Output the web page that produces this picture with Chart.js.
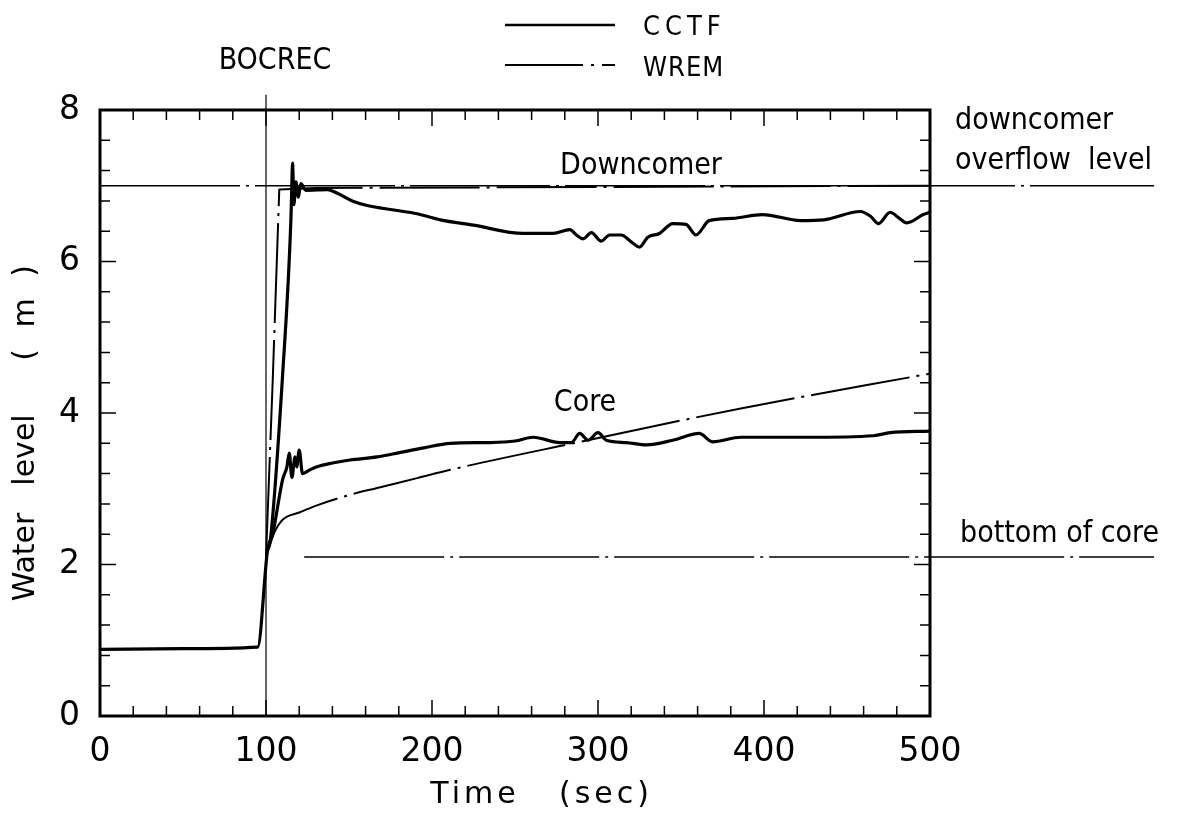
<!DOCTYPE html>
<html>
<head>
<meta charset="utf-8">
<script src="https://cdn.jsdelivr.net/npm/chart.js@4/dist/chart.umd.min.js"></script>
<style>
  body { margin: 0; background: #fff; }
  #wrap { width: 1185px; height: 814px; position: relative; }
</style>
</head>
<body>
<div id="wrap"><canvas id="levelChart"></canvas></div>
<script>
// time (sec) / water level (m)
const cctfCoreTime = [0, 50, 95, 101, 104, 110, 112.6, 114, 115.6, 117.5, 118.5, 120, 122, 126.5, 130.7, 140, 150.6, 167, 181, 195, 211, 235, 250, 261, 277, 284, 289, 294, 300, 305, 317, 329, 345, 361, 369, 386, 426, 466, 476, 500];
const cctfCoreLevel = [0.88, 0.89, 0.91, 2.2, 2.4, 3.12, 3.29, 3.47, 3.15, 3.42, 3.29, 3.51, 3.2, 3.25, 3.29, 3.34, 3.38, 3.42, 3.48, 3.54, 3.6, 3.61, 3.63, 3.68, 3.61, 3.61, 3.73, 3.64, 3.74, 3.64, 3.61, 3.58, 3.64, 3.73, 3.62, 3.68, 3.68, 3.7, 3.74, 3.76];

const cctfDcTime = [101, 102.5, 110, 115, 115.5, 116, 116.8, 118, 119.5, 121, 124, 137, 143, 152, 161, 177, 191, 205, 225, 255, 273, 283, 287, 291, 296, 302, 307, 314, 320, 325, 330, 337, 345, 353, 359, 367, 381, 399, 422, 436, 458, 464, 469, 476, 481, 486, 496, 500];
const cctfDcLevel = [2.2, 2.3, 4.5, 6.55, 6.95, 7.3, 6.75, 7.05, 6.85, 7.03, 6.94, 6.95, 6.9, 6.8, 6.74, 6.68, 6.63, 6.55, 6.48, 6.37, 6.37, 6.42, 6.35, 6.3, 6.38, 6.27, 6.35, 6.35, 6.26, 6.19, 6.32, 6.37, 6.5, 6.49, 6.35, 6.54, 6.57, 6.62, 6.54, 6.55, 6.66, 6.6, 6.5, 6.65, 6.58, 6.51, 6.62, 6.65];

const wremDcTime = [100, 104, 108, 130, 500];
const wremDcLevel = [2.1, 4.4, 6.95, 6.97, 7.0];

const wremCoreTime = [100, 103, 105, 110, 120.5, 130.7, 150.6, 167, 191, 211, 285, 386, 500];
const wremCoreLevel = [2.1, 2.3, 2.42, 2.59, 2.69, 2.78, 2.92, 3.01, 3.14, 3.25, 3.6, 4.06, 4.52];

const overflowLevel = 7.0;
const bottomOfCore = 2.1;
const bocrecTime = 100;

const xTicks = [0, 100, 200, 300, 400, 500];
const yTicks = [0, 2, 4, 6, 8];

const FONT = '"DejaVu Sans", "Liberation Sans", sans-serif';
const FONT_C = '"DejaVu Sans Condensed", "DejaVu Sans", sans-serif';
const dashDot = [100, 7, 3, 7];

function pts(ts, ys) {
    return ts.map((t, i) => ({ x: t, y: ys[i] }));
}

// frame with inward ticks on all four sides, titles, legend, notes
const decor = {
    id: 'decor',
    afterDraw(chart) {
        const ctx = chart.ctx;
        const a = chart.chartArea;
        const xs = chart.scales.x, ys = chart.scales.y;
        ctx.save();
        ctx.strokeStyle = '#000';
        ctx.lineWidth = 1.5;
        for (let t = 20; t < 500; t += 20) {
            const px = xs.getPixelForValue(t);
            const len = t % 100 === 0 ? 16 : 10;
            ctx.beginPath();
            ctx.moveTo(px, a.bottom); ctx.lineTo(px, a.bottom - len);
            ctx.moveTo(px, a.top); ctx.lineTo(px, a.top + len);
            ctx.stroke();
        }
        for (let i = 1; i < 20; i++) {
            const v = i * 0.4;
            const py = ys.getPixelForValue(v);
            const len = i % 5 === 0 ? 16 : 10;
            ctx.beginPath();
            ctx.moveTo(a.left, py); ctx.lineTo(a.left + len, py);
            ctx.moveTo(a.right, py); ctx.lineTo(a.right - len, py);
            ctx.stroke();
        }
        ctx.lineWidth = 3;
        ctx.strokeRect(a.left, a.top, a.right - a.left, a.bottom - a.top);

        ctx.fillStyle = '#000';
        // axis titles
        ctx.font = '30px ' + FONT;
        ctx.textAlign = 'center';
        ctx.textBaseline = 'alphabetic';
        ctx.letterSpacing = '4px';
        ctx.fillText('Time', 475, 803);
        ctx.fillText('(sec)', 606, 803);
        ctx.save();
        ctx.translate(34, 0);
        ctx.rotate(-Math.PI / 2);
        ctx.letterSpacing = '0px';
        ctx.fillText('Water', -557, 0);
        ctx.fillText('level', -450, 0);
        ctx.letterSpacing = '6px';
        ctx.fillText('( m )', -310, 0);
        ctx.restore();

        // legend
        ctx.lineWidth = 2.5;
        ctx.beginPath(); ctx.moveTo(505, 25); ctx.lineTo(615, 25); ctx.stroke();
        ctx.lineWidth = 2;
        ctx.setLineDash([78, 8, 3, 8]);
        ctx.beginPath(); ctx.moveTo(505, 65); ctx.lineTo(615, 65); ctx.stroke();
        ctx.setLineDash([]);
        ctx.textAlign = 'left';
        ctx.font = '27px ' + FONT_C;
        ctx.letterSpacing = '5px';
        ctx.fillText('CCTF', 643, 35);
        ctx.letterSpacing = '1px';
        ctx.fillText('WREM', 643, 76);

        // notes
        ctx.font = '30px ' + FONT_C;
        ctx.letterSpacing = '0px';
        ctx.textAlign = 'center';
        ctx.fillText('BOCREC', 275, 69);
        ctx.fillText('Downcomer', 641, 174);
        ctx.fillText('Core', 585, 411);
        ctx.textAlign = 'left';
        ctx.fillText('downcomer', 955, 129);
        ctx.fillText('overflow  level', 955, 169);
        ctx.fillText('bottom of core', 960, 542);
        ctx.restore();
    }
};

document.addEventListener('DOMContentLoaded', function() {
    const ctx = document.getElementById('levelChart').getContext('2d');
    new Chart(ctx, {
        type: 'line',
        data: {
            datasets: [
                {
                    label: 'overflow level',
                    data: pts([0, 635], [overflowLevel, overflowLevel]),
                    borderColor: '#000', borderWidth: 1.5, borderDash: [140, 6, 3, 6],
                    clip: false
                },
                {
                    label: 'bottom of core',
                    data: pts([123, 635], [bottomOfCore, bottomOfCore]),
                    borderColor: '#000', borderWidth: 1.5, borderDash: [140, 6, 3, 6],
                    clip: false
                },
                {
                    label: 'BOCREC',
                    data: pts([bocrecTime, bocrecTime], [0, 8.2]),
                    borderColor: '#000', borderWidth: 1.2,
                    clip: false
                },
                {
                    label: 'WREM downcomer',
                    data: pts(wremDcTime, wremDcLevel),
                    borderColor: '#000', borderWidth: 2, borderDash: dashDot
                },
                {
                    label: 'WREM core',
                    data: pts(wremCoreTime, wremCoreLevel),
                    borderColor: '#000', borderWidth: 2, borderDash: dashDot,
                    cubicInterpolationMode: 'monotone'
                },
                {
                    label: 'CCTF downcomer',
                    data: pts(cctfDcTime, cctfDcLevel),
                    borderColor: '#000', borderWidth: 3.2,
                    cubicInterpolationMode: 'monotone'
                },
                {
                    label: 'CCTF core',
                    data: pts(cctfCoreTime, cctfCoreLevel),
                    borderColor: '#000', borderWidth: 3.2,
                    cubicInterpolationMode: 'monotone'
                }
            ]
        },
        options: {
            responsive: true,
            maintainAspectRatio: false,
            animation: false,
            elements: { point: { radius: 0 }, line: { borderCapStyle: 'butt', borderJoinStyle: 'round' } },
            layout: { padding: { top: 110, right: 255, left: 0, bottom: 0 } },
            plugins: { legend: { display: false }, tooltip: { enabled: false } },
            scales: {
                x: {
                    type: 'linear', min: 0, max: 500,
                    afterFit: function(scale) { scale.height = 98; },
                    afterBuildTicks: function(scale) { scale.ticks = xTicks.map(v => ({ value: v })); },
                    grid: { display: false },
                    border: { display: false },
                    ticks: { padding: 9, color: '#000', font: { family: FONT, size: 33 } }
                },
                y: {
                    type: 'linear', min: 0, max: 8,
                    afterFit: function(scale) { scale.width = 100; },
                    afterBuildTicks: function(scale) { scale.ticks = yTicks.map(v => ({ value: v })); },
                    grid: { display: false },
                    border: { display: false },
                    ticks: { padding: 12, color: '#000', font: { family: FONT, size: 33 } }
                }
            }
        },
        plugins: [decor]
    });
});
</script>
</body>
</html>
